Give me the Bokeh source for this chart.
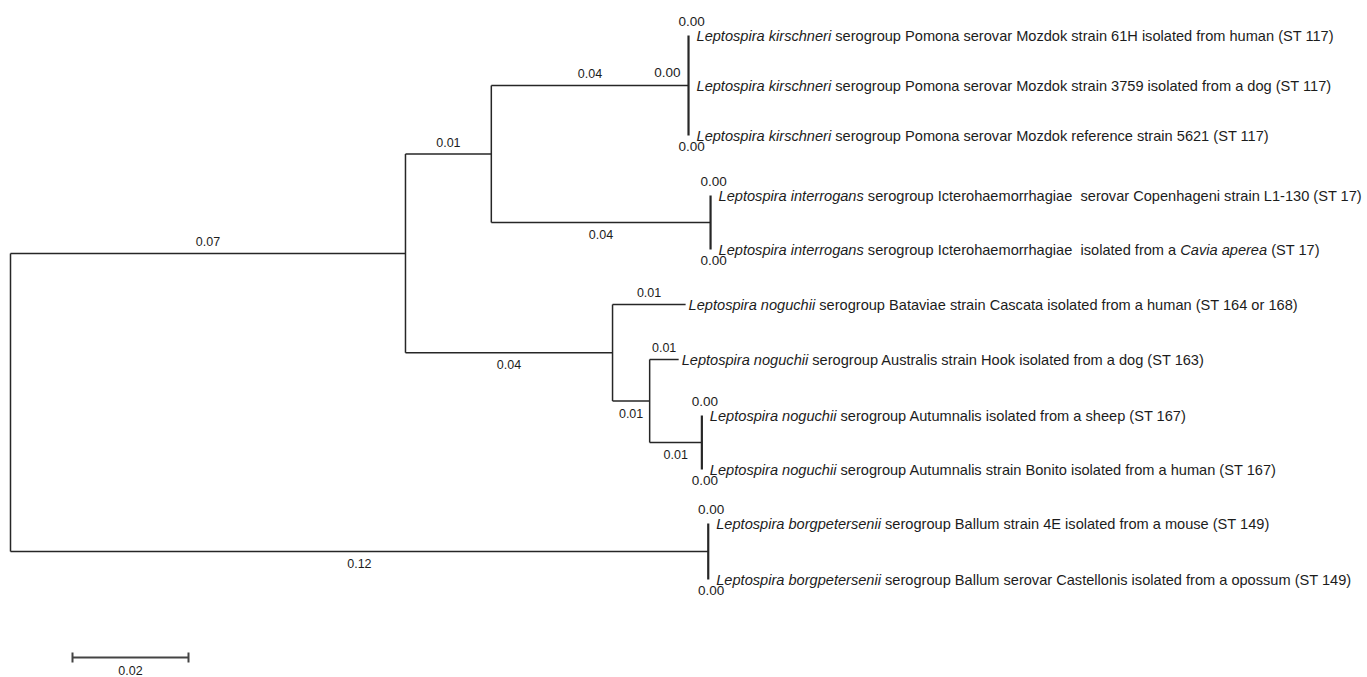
from bokeh.plotting import figure
from bokeh.models import Range1d
from bokeh.embed import file_html
from bokeh.resources import INLINE
from bokeh.core.properties import value

# ---------------- data ----------------
nodes = ["root", "A", "B", "K", "k1", "k2", "k3", "I", "i1", "i2",
         "C", "bat", "D", "hook", "E", "e1", "e2", "F", "f1", "f2"]
parents = [None, "root", "A", "B", "K", "K", "K", "B", "I", "I",
           "A", "C", "C", "D", "D", "E", "E", "root", "F", "F"]
branch_len = [0.0, 0.0681, 0.0148, 0.0340, 0.0, 0.0, 0.0, 0.0378, 0.0, 0.0,
              0.0357, 0.0126, 0.0064, 0.0050, 0.0090, 0.0, 0.0, 0.1203, 0.0, 0.0]
branch_lab = ["", "0.07", "0.01", "0.04", "0.00", "0.00", "0.00", "0.04", "0.00", "0.00",
              "0.04", "0.01", "0.01", "0.01", "0.01", "0.00", "0.00", "0.12", "0.00", "0.00"]

leaves = ["k1", "k2", "k3", "i1", "i2", "bat", "hook", "e1", "e2", "f1", "f2"]
leaf_rows = [35, 85, 135, 195, 249, 304, 359, 415, 469, 523, 579]

genus = "Leptospira"
leaf_species = ["kirschneri", "kirschneri", "kirschneri", "interrogans", "interrogans",
                "noguchii", "noguchii", "noguchii", "noguchii", "borgpetersenii", "borgpetersenii"]
leaf_rest = [
    [("serogroup Pomona serovar Mozdok strain 61H isolated from human (ST 117)", False)],
    [("serogroup Pomona serovar Mozdok strain 3759 isolated from a dog (ST 117)", False)],
    [("serogroup Pomona serovar Mozdok reference strain 5621 (ST 117)", False)],
    [("serogroup Icterohaemorrhagiae  serovar Copenhageni strain L1-130 (ST 17)", False)],
    [("serogroup Icterohaemorrhagiae  isolated from a", False), ("Cavia aperea", True), ("(ST 17)", False)],
    [("serogroup Bataviae strain Cascata isolated from a human (ST 164 or 168)", False)],
    [("serogroup Australis strain Hook isolated from a dog (ST 163)", False)],
    [("serogroup Autumnalis isolated from a sheep (ST 167)", False)],
    [("serogroup Autumnalis strain Bonito isolated from a human (ST 167)", False)],
    [("serogroup Ballum strain 4E isolated from a mouse (ST 149)", False)],
    [("serogroup Ballum serovar Castellonis isolated from a opossum (ST 149)", False)],
]

scale_len = 0.02
scale_lab = "0.02"

# ---------------- layout constants ----------------
PX = 5800.0                     # screen px per unit of branch length
W, H = 1367, 677
X0 = 10                         # screen x of the root
TXT_SIZE = 14.6
LAB_SIZE = 12.5
LINE = "#262626"
TXT = "#1c1c1c"

# Arial / Liberation Sans advance widths (1/1000 em)
AW = {' ': 278, '(': 333, ')': 333, '-': 333, '.': 278}
for ch in "0123456789":
    AW[ch] = 556
AW.update(dict(zip("ABCDEFGHIJKLMNOPQRSTUVWXYZ",
                   [667, 667, 722, 722, 667, 611, 778, 722, 278, 500, 667, 556, 833,
                    722, 778, 667, 778, 722, 667, 611, 722, 667, 944, 667, 667, 611])))
AW.update(dict(zip("abcdefghijklmnopqrstuvwxyz",
                   [556, 556, 500, 556, 556, 278, 556, 556, 222, 222, 500, 222, 833,
                    556, 556, 556, 556, 333, 500, 278, 556, 500, 722, 500, 500, 500])))


def text_px(s, size):
    return sum(AW.get(c, 556) for c in s) * size / 1000.0


# ---------------- tree geometry ----------------
idx = {n: i for i, n in enumerate(nodes)}
children = {n: [] for n in nodes}
for n, par in zip(nodes, parents):
    if par is not None:
        children[par].append(n)

xpos, ypos = {}, {}
leaf_y = dict(zip(leaves, leaf_rows))


def place(n, x0):
    xpos[n] = x0 + branch_len[idx[n]]
    if not children[n]:
        ypos[n] = leaf_y[n]
    else:
        for c in children[n]:
            place(c, xpos[n])
        ys = [ypos[c] for c in children[n]]
        ypos[n] = (ys[0] + ys[-1]) / 2.0


place("root", 0.0)

p = figure(width=W, height=H, output_backend="svg", toolbar_location=None,
           x_range=Range1d(-X0 / PX, (W - X0) / PX), y_range=Range1d(H, 0),
           min_border=0, outline_line_color=None)
p.axis.visible = False
p.grid.visible = False
p.background_fill_color = "white"

# horizontal branches
hx0, hx1, hy = [], [], []
for n, par in zip(nodes, parents):
    if par is not None and branch_len[idx[n]] > 0:
        hx0.append(xpos[par]); hx1.append(xpos[n]); hy.append(ypos[n])
p.segment(x0=hx0, y0=hy, x1=hx1, y1=hy, line_color=LINE, line_width=1.5)

# vertical connectors
vx, vy0, vy1, vw = [], [], [], []
for n in nodes:
    ch = children[n]
    if ch:
        vx.append(xpos[n]); vy0.append(ypos[ch[0]]); vy1.append(ypos[ch[-1]])
        zero = all(branch_len[idx[c]] == 0 for c in ch)
        vw.append(2.2 if zero else 1.5)
p.segment(x0=vx, y0=vy0, x1=vx, y1=vy1, line_color=LINE, line_width=vw)

# branch length labels
for n, par in zip(nodes, parents):
    if par is None:
        continue
    sib = children[par]
    pos = sib.index(n)
    lab = branch_lab[idx[n]]
    zero = branch_len[idx[n]] == 0
    if zero:
        if pos == 0:
            x, y, al = xpos[n] + 3 / PX, ypos[n] - 14, "center"
        elif pos == len(sib) - 1:
            x, y, al = xpos[n] + 3 / PX, ypos[n] + 11, "center"
        else:
            x, y, al = xpos[n] - 8 / PX, ypos[n] - 13, "right"
        size = LAB_SIZE + 1.0
    else:
        x = (xpos[par] + xpos[n]) / 2.0
        y = ypos[n] - 12 if pos == 0 else ypos[n] + 12
        al = "center"
        size = LAB_SIZE
    p.text(x=[x], y=[y], text=[lab], text_align=al, text_baseline="middle",
           text_font=value("Liberation Sans"), text_font_size="%.1fpx" % size,
           text_color=TXT)

# leaf labels (mixed italic / upright)
for leaf, sp, rest in zip(leaves, leaf_species, leaf_rest):
    gap = 8.0 if branch_len[idx[leaf]] == 0 else 3.0
    segs = [(genus + " " + sp, True)] + rest
    off = gap
    for s, it in segs:
        for k, part in enumerate(s.split("  ")):
            if k > 0:
                off += text_px("  ", TXT_SIZE)
            elif off > gap:
                off += text_px(" ", TXT_SIZE)
            p.text(x=[xpos[leaf] + off / PX], y=[ypos[leaf]], text=[part],
                   text_align="left", text_baseline="middle",
                   text_font=value("Liberation Sans"), text_font_size="%.1fpx" % TXT_SIZE,
                   text_font_style="italic" if it else "normal", text_color=TXT)
            off += text_px(part, TXT_SIZE)

# scale bar
sb_x0 = 62 / PX
sb_y = 657
p.segment(x0=[sb_x0], y0=[sb_y], x1=[sb_x0 + scale_len], y1=[sb_y],
          line_color="#444444", line_width=2)
p.segment(x0=[sb_x0, sb_x0 + scale_len], y0=[sb_y - 5, sb_y - 5],
          x1=[sb_x0, sb_x0 + scale_len], y1=[sb_y + 5, sb_y + 5],
          line_color="#444444", line_width=2)
p.text(x=[sb_x0 + scale_len / 2], y=[sb_y + 13], text=[scale_lab], text_align="center",
       text_baseline="middle", text_font=value("Liberation Sans"), text_font_size="12.5px",
       text_color=TXT)

open("out.html", "w").write(file_html(p, INLINE))
